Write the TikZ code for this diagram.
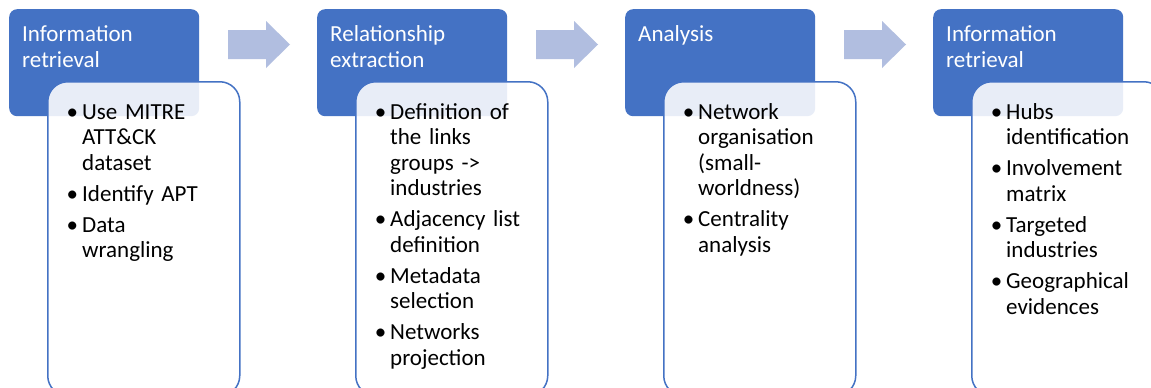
\documentclass[tikz,border=0pt]{standalone}
\usepackage{fontspec}
\setmainfont{Carlito}
\definecolor{hdrblue}{RGB}{68,114,196}
\definecolor{arrowblue}{RGB}{177,190,224}
\newcommand{\bitem}[1]{\par\noindent\llap{\textbullet\hspace{4pt}}#1}
\newcommand{\bodysetup}{\raggedright\setlength{\parskip}{5.5pt}}
\tikzset{
  hdrbox/.style={fill=hdrblue, draw=none, rounded corners=8pt, minimum width=190pt, minimum height=107pt, anchor=north west, inner sep=0pt},
  hdrtext/.style={text=white, anchor=north west, inner sep=0pt, align=left, font=\fontsize{23}{26}\selectfont},
  bodybox/.style={draw=hdrblue, line width=1.5pt, fill=white, fill opacity=0.88, draw opacity=1, rounded corners=20pt, minimum width=192pt, minimum height=314pt, anchor=north west, inner sep=0pt},
  bodytext/.style={text=black, anchor=north west, inner sep=0pt, text width=160pt, font=\fontsize{23}{25.5}\selectfont},
  flowarrow/.style={fill=arrowblue, draw=none}
}
\newcommand{\stp}{\rule{0pt}{20pt}}
\begin{document}
\begin{tikzpicture}[x=1pt, y=-1pt]
\useasboundingbox (0,0) rectangle (1151,388);
\clip (0,0) rectangle (1151,388);
\fill[white] (0,0) rectangle (1151,388);

% panel headers
\node[hdrbox] (h1) at (9,9) {};
\node[hdrbox] (h2) at (317,9) {};
\node[hdrbox] (h3) at (625,9) {};
\node[hdrbox] (h4) at (933,9) {};
\node[hdrtext] (h1t) at (22,21) {\stp Information\\retrieval};
\node[hdrtext] (h2t) at (330,21) {\stp Relationship\\extraction};
\node[hdrtext] (h3t) at (638,21) {\stp Analysis};
\node[hdrtext] (h4t) at (946,21) {\stp Information\\retrieval};

% body boxes
\node[bodybox] (b1) at (47,81) {};
\node[bodybox] (b2) at (355,81) {};
\node[bodybox] (b3) at (663,81) {};
\node[bodybox] (b4) at (971,81) {};

\node[bodytext] (b1t) at (82,88) {\bodysetup
\bitem{\stp Use MITRE\newline ATT\&CK\newline dataset}
\bitem{Identify APT}
\bitem{Data\newline wrangling}};
\node[bodytext] (b2t) at (390,88) {\bodysetup
\bitem{\stp Definition of\newline the links\newline groups ->\newline industries}
\bitem{Adjacency list\newline definition}
\bitem{Metadata\newline selection}
\bitem{Networks\newline projection}};
\node[bodytext] (b3t) at (698,88) {\bodysetup
\bitem{\stp Network\newline organisation\newline (small-\newline worldness)}
\bitem{Centrality\newline analysis}};
\node[bodytext] (b4t) at (1006,88) {\bodysetup
\bitem{\stp Hubs\newline identification}
\bitem{Involvement\newline matrix}
\bitem{Targeted\newline industries}
\bitem{Geographical\newline evidences}};

% arrows between panels
\foreach \ax in {228,536,844}{
  \fill[flowarrow] (\ax,30) -- ++(38,0) -- ++(0,-9) -- ++(24,23.5) -- ++(-24,23.5) -- ++(0,-9) -- ++(-38,0) -- cycle;
}
\end{tikzpicture}
\end{document}
